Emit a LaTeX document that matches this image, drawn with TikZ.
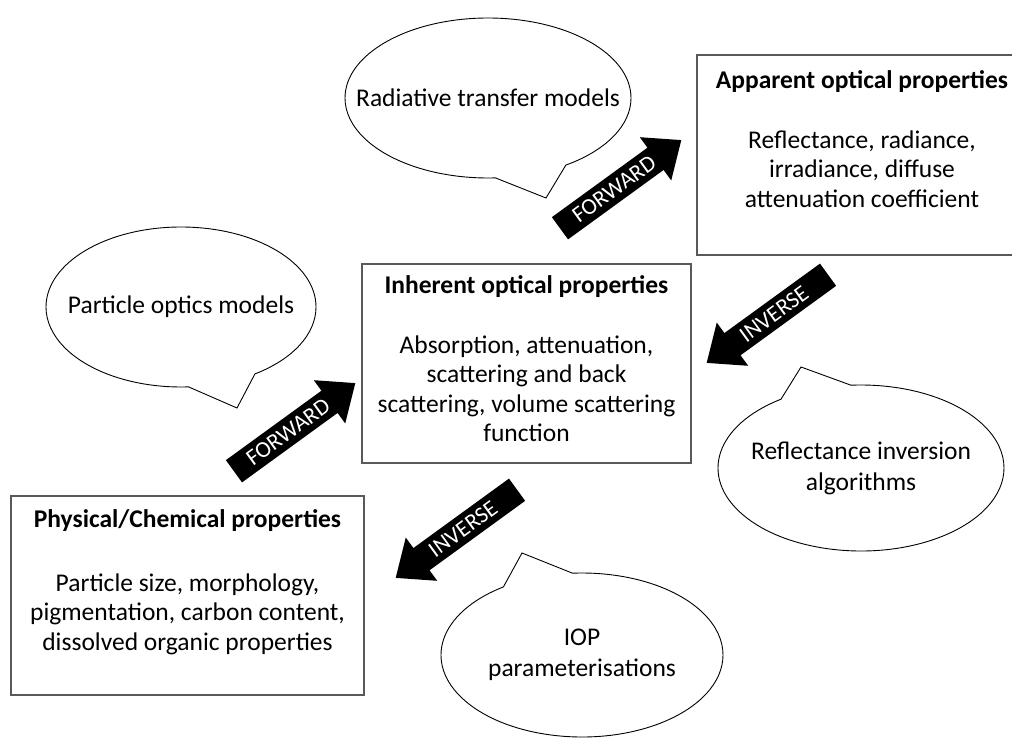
\documentclass[tikz,border=0pt]{standalone}
\usepackage{fontspec}
\setmainfont{Carlito}
\usetikzlibrary{shapes.callouts,shapes.arrows,shapes.geometric}
\newcommand{\zl}[1]{\makebox[0pt]{#1}}
\begin{document}
\begin{tikzpicture}[x=1pt,y=1pt,
  box/.style={draw=black!65, line width=1.2pt, rectangle, inner sep=0pt},
  boxtext/.style={anchor=north, align=center, inner sep=0pt, font=\fontsize{25.5}{29.5}\selectfont},
  bubble/.style={ellipse callout, draw=black, line width=0.9pt, fill=white, inner sep=0pt,
    align=center, font=\fontsize{25.5}{31}\selectfont, callout pointer arc=30},
  blockarrow/.style={single arrow, fill=black, text=white, font=\fontsize{23}{24}\selectfont,
    minimum height=150pt, single arrow head extend=13pt, single arrow head indent=0pt,
    single arrow tip angle=80, inner ysep=6pt, inner xsep=6pt, rotate=36},
  backarrow/.style={blockarrow, shape border rotate=180}
]
\useasboundingbox (0,0) rectangle (1012,-738);
\clip (0,0) rectangle (1012,-738);

% boxes
\node[box, minimum width=330pt, minimum height=200pt] (aop) at (862,-155) {};
\node[boxtext] (aoptext) at (862,-68) {\strut\textbf{Apparent optical properties}\\[30pt]
  Reflectance, radiance,\\ irradiance, diffuse\\ attenuation coefficient};

\node[box, minimum width=329pt, minimum height=199pt] (iop) at (526.5,-363.5) {};
\node[boxtext] (ioptext) at (526.5,-273) {\strut\textbf{Inherent optical properties}\\[30pt]
  Absorption, attenuation,\\ scattering and back\\ scattering, volume scattering\\ function};

\node[box, minimum width=353pt, minimum height=199pt] (phys) at (187.5,-595.5) {};
\node[boxtext] (phystext) at (187.5,-507) {\strut\textbf{Physical/Chemical properties}\\[34pt]
  Particle size, morphology,\\ pigmentation, carbon content,\\ dissolved organic properties};

% callouts
\node[bubble, minimum width=286pt, minimum height=160pt,
  callout absolute pointer={(546,-198)}] (rtm) at (488,-98) {\zl{Radiative transfer models}};
\node[bubble, minimum width=270pt, minimum height=160pt,
  callout absolute pointer={(237,-408)}] (pom) at (181,-307) {\zl{Particle optics models}};
\node[bubble, minimum width=286pt, minimum height=166pt,
  callout absolute pointer={(801,-367)}] (ria) at (861,-468) {\zl{Reflectance inversion}\\ \zl{algorithms}};
\node[bubble, minimum width=282pt, minimum height=164pt,
  callout absolute pointer={(522,-553)}] (iopp) at (582,-655) {\zl{IOP}\\ \zl{parameterisations}};

% block arrows
\node[blockarrow] (fwdtop) at (614,-189) {FORWARD};
\node[blockarrow] (fwdleft) at (288,-432) {FORWARD};
\node[backarrow] (invright) at (774,-314) {INVERSE};
\node[backarrow] (invbottom) at (463,-529) {INVERSE};
\end{tikzpicture}
\end{document}
